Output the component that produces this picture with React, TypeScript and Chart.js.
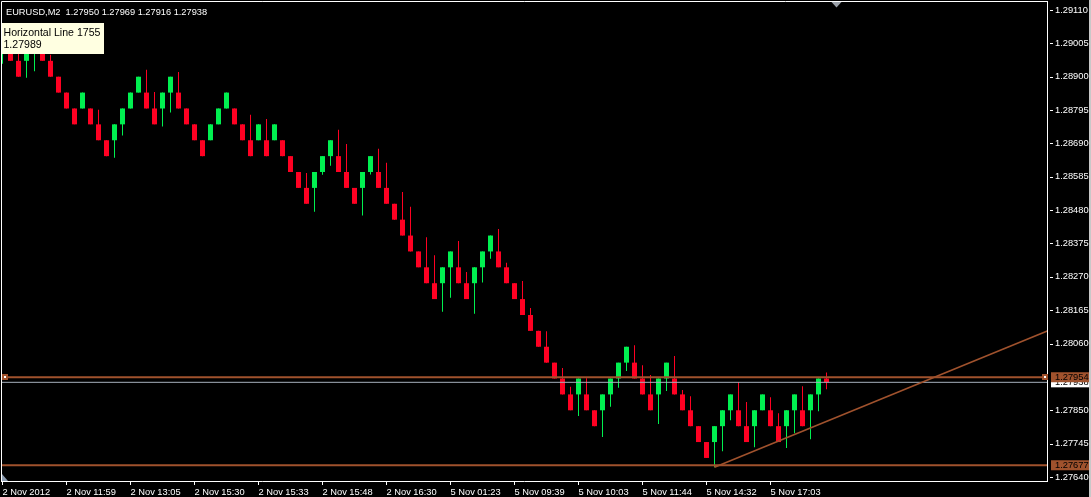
import React, { useEffect, useRef } from "react";
import { Chart, registerables } from "chart.js";

Chart.register(...registerables);

// ---- Data (Renko-style bricks, EURUSD M2) ----
const OPENS = [
  1.29, 1.29, 1.2895, 1.2895, 1.29, 1.29, 1.2895, 1.289, 1.2885, 1.288,
  1.288, 1.288, 1.2875, 1.287, 1.287, 1.2875, 1.288, 1.2885, 1.2885, 1.288,
  1.288, 1.2885, 1.2885, 1.288, 1.2875, 1.287, 1.287, 1.2875, 1.288, 1.288,
  1.2875, 1.287, 1.287, 1.287, 1.287, 1.287, 1.2865, 1.286, 1.2855, 1.2855,
  1.286, 1.2865, 1.2865, 1.286, 1.2855, 1.2855, 1.286, 1.286, 1.2855, 1.285,
  1.2845, 1.284, 1.2835, 1.283, 1.2825, 1.2825, 1.283, 1.283, 1.2825, 1.2825,
  1.283, 1.2835, 1.2835, 1.283, 1.2825, 1.282, 1.2815, 1.281, 1.2805, 1.28,
  1.2795, 1.279, 1.279, 1.279, 1.2785, 1.2785, 1.279, 1.2795, 1.28, 1.28,
  1.2795, 1.279, 1.279, 1.2795, 1.2795, 1.279, 1.2785, 1.278, 1.2775, 1.2775,
  1.278, 1.2785, 1.2785, 1.278, 1.278, 1.2785, 1.2785, 1.278, 1.278, 1.2785,
  1.2785, 1.2785, 1.279, 1.2795,
];
const HIGHS = [
  1.2905, 1.29, 1.28972, 1.29, 1.2905, 1.29, 1.28969, 1.289, 1.2885, 1.288,
  1.2885, 1.288, 1.28796, 1.287, 1.2875, 1.288, 1.2885, 1.289, 1.28922, 1.28852,
  1.2885, 1.289, 1.28915, 1.288, 1.2875, 1.287, 1.2875, 1.288, 1.2885, 1.288,
  1.2875, 1.2878, 1.2875, 1.28767, 1.2875, 1.287, 1.2865, 1.286, 1.28597, 1.286,
  1.2865, 1.287, 1.28733, 1.28688, 1.2855, 1.286, 1.2865, 1.28673, 1.28629, 1.285,
  1.28537, 1.28491, 1.2835, 1.28395, 1.28338, 1.283, 1.2835, 1.28383, 1.28285, 1.283,
  1.2835, 1.284, 1.28421, 1.28314, 1.2825, 1.28257, 1.28172, 1.281, 1.28099, 1.28,
  1.27983, 1.27924, 1.2795, 1.27951, 1.2785, 1.279, 1.2795, 1.28, 1.2805, 1.28055,
  1.27992, 1.27961, 1.2795, 1.28, 1.28021, 1.27914, 1.27894, 1.278, 1.2775, 1.278,
  1.2785, 1.279, 1.27939, 1.27876, 1.2785, 1.279, 1.27891, 1.27841, 1.2785, 1.279,
  1.27926, 1.279, 1.2795, 1.27969,
];
const LOWS = [
  1.28941, 1.2895, 1.289, 1.28897, 1.28917, 1.2895, 1.289, 1.2885, 1.288, 1.2875,
  1.288, 1.2875, 1.287, 1.2865, 1.28645, 1.28715, 1.288, 1.2885, 1.288, 1.2875,
  1.28743, 1.28787, 1.288, 1.2875, 1.287, 1.2865, 1.287, 1.2875, 1.288, 1.2875,
  1.287, 1.2865, 1.287, 1.2865, 1.287, 1.2865, 1.286, 1.2855, 1.285, 1.28475,
  1.28591, 1.2862, 1.286, 1.2855, 1.285, 1.28463, 1.28592, 1.2855, 1.285, 1.2845,
  1.284, 1.2835, 1.283, 1.2825, 1.282, 1.2816, 1.28204, 1.2825, 1.282, 1.28154,
  1.28252, 1.28327, 1.283, 1.2825, 1.282, 1.2815, 1.281, 1.2805, 1.28, 1.2795,
  1.279, 1.2785, 1.27832, 1.2785, 1.278, 1.27766, 1.27861, 1.27921, 1.27974, 1.2795,
  1.279, 1.2785, 1.27807, 1.27911, 1.279, 1.2785, 1.278, 1.2775, 1.277, 1.27671,
  1.27721, 1.27819, 1.278, 1.2775, 1.27734, 1.2785, 1.278, 1.2775, 1.27731, 1.27778,
  1.278, 1.27759, 1.27847, 1.27916,
];
const CLOSES = [
  1.2905, 1.2895, 1.289, 1.29, 1.2905, 1.2895, 1.289, 1.2885, 1.288, 1.2875,
  1.2885, 1.2875, 1.287, 1.2865, 1.2875, 1.288, 1.2885, 1.289, 1.288, 1.2875,
  1.2885, 1.289, 1.288, 1.2875, 1.287, 1.2865, 1.2875, 1.288, 1.2885, 1.2875,
  1.287, 1.2865, 1.2875, 1.2865, 1.2875, 1.2865, 1.286, 1.2855, 1.285, 1.286,
  1.2865, 1.287, 1.286, 1.2855, 1.285, 1.286, 1.2865, 1.2855, 1.285, 1.2845,
  1.284, 1.2835, 1.283, 1.2825, 1.282, 1.283, 1.2835, 1.2825, 1.282, 1.283,
  1.2835, 1.284, 1.283, 1.2825, 1.282, 1.2815, 1.281, 1.2805, 1.28, 1.2795,
  1.279, 1.2785, 1.2795, 1.2785, 1.278, 1.279, 1.2795, 1.28, 1.2805, 1.2795,
  1.279, 1.2785, 1.2795, 1.28, 1.279, 1.2785, 1.278, 1.2775, 1.277, 1.278,
  1.2785, 1.279, 1.278, 1.2775, 1.2785, 1.279, 1.278, 1.2775, 1.2785, 1.279,
  1.278, 1.279, 1.2795, 1.27938,
];

const X_LABEL_INDEX = [0, 8, 16, 24, 32, 40, 48, 56, 64, 72, 80, 88, 96];
const X_LABELS = [
  "2 Nov 2012", "2 Nov 11:59", "2 Nov 13:05", "2 Nov 15:30", "2 Nov 15:33",
  "2 Nov 15:48", "2 Nov 16:30", "5 Nov 01:23", "5 Nov 09:39", "5 Nov 10:03",
  "5 Nov 11:44", "5 Nov 14:32", "5 Nov 17:03",
];
const Y_TICKS = [
  1.2911, 1.29005, 1.289, 1.28795, 1.2869, 1.28585, 1.2848, 1.28375,
  1.2827, 1.28165, 1.2806, 1.2785, 1.27745, 1.2764,
];

const HLINE_UPPER = 1.27954;
const HLINE_LOWER = 1.27677;
const BID = 1.27938;
const TREND_X = [89, 135];
const TREND_Y = [1.27671, 1.28145];

const TITLE = "EURUSD,M2  1.27950 1.27969 1.27916 1.27938";
const TIP_LINES = ["Horizontal Line 1755", "1.27989"];

// ---- Styling ----
const FONT = '"Liberation Sans", Arial, sans-serif';
const BULL = "#00f050";
const BEAR = "#ff0022";
const SIENNA = "#a0522d";
const BID_COLOR = "#a6b0bc";

const Y_MIN = 1.276274;
const Y_MAX = 1.291383;
const X_MIN = -0.1875;
const X_MAX = X_MIN + 1046 / 8;

function fitSize(text: string, target: number): number {
  const c = document.createElement("canvas").getContext("2d");
  if (!c) return 10;
  c.font = `100px ${FONT}`;
  const w = c.measureText(text).width;
  return Math.round(((100 * target) / w) * 100) / 100;
}

export default function App() {
  const ref = useRef<HTMLCanvasElement>(null);

  useEffect(() => {
    const canvas = ref.current;
    if (!canvas) return;
    const idx = OPENS.map((_, i) => i);
    const colors = idx.map((i) => (CLOSES[i] >= OPENS[i] ? BULL : BEAR));

    const titleSize = fitSize(TITLE, 201);
    const tipSize = fitSize(TIP_LINES[0], 97);
    const xSize = fitSize("2 Nov 11:59", 49.5);
    const ySize = fitSize("1.29110", 33);

    const overlay = {
      id: "mt4overlay",
      afterDraw(chart: any) {
        const { ctx, chartArea: ca, scales } = chart;
        const ys = scales.y;
        ctx.save();

        // frame (left + top)
        ctx.strokeStyle = "#ffffff";
        ctx.lineWidth = 1;
        ctx.beginPath();
        ctx.moveTo(ca.left + 0.5, ca.bottom);
        ctx.lineTo(ca.left + 0.5, ca.top + 0.5);
        ctx.lineTo(ca.right, ca.top + 0.5);
        ctx.stroke();

        // y tick dashes
        ctx.beginPath();
        for (const v of Y_TICKS) {
          const py = Math.round(ys.getPixelForValue(v)) + 0.5;
          ctx.moveTo(ca.right + 3, py);
          ctx.lineTo(ca.right + 6, py);
        }
        ctx.stroke();

        // title
        ctx.fillStyle = "#ffffff";
        ctx.font = `${titleSize}px ${FONT}`;
        ctx.textBaseline = "middle";
        ctx.textAlign = "left";
        ctx.fillText(TITLE, 6, 12.3);

        // tooltip
        ctx.fillStyle = "#ffffe1";
        ctx.fillRect(2, 23, 102, 31);
        ctx.fillStyle = "#000000";
        ctx.font = `${tipSize}px ${FONT}`;
        ctx.fillText(TIP_LINES[0], 3.5, 33);
        ctx.fillText(TIP_LINES[1], 3.5, 45.3);

        // selected line end markers
        const pyU = ys.getPixelForValue(HLINE_UPPER);
        const my = Math.round(pyU - 3);
        for (const mx of [ca.left + 1, ca.right - 5]) {
          ctx.fillStyle = SIENNA;
          ctx.fillRect(mx, my, 6, 6);
          ctx.fillStyle = "#ffffff";
          ctx.fillRect(mx + 2, my + 2, 2, 2);
        }

        // right axis price labels
        const lx = ca.right + 4;
        const lw = 38;
        ctx.font = `${ySize}px ${FONT}`;
        const pyB = ys.getPixelForValue(BID);
        ctx.fillStyle = "#ffffff";
        ctx.fillRect(lx, pyB - 5, lw, 10);
        ctx.fillStyle = "#000000";
        ctx.fillText(BID.toFixed(5), ca.right + 8, pyB + 0.5);

        for (const v of [HLINE_UPPER, HLINE_LOWER]) {
          const py = ys.getPixelForValue(v);
          ctx.fillStyle = SIENNA;
          ctx.fillRect(lx, py - 5, lw, 10);
          ctx.fillStyle = "#000000";
          ctx.fillText(v.toFixed(5), ca.right + 8, py + 0.5);
        }

        // chart shift marker (top)
        ctx.fillStyle = "#9aa0a8";
        ctx.beginPath();
        ctx.moveTo(831.5, 2);
        ctx.lineTo(841.5, 2);
        ctx.lineTo(836.5, 7.5);
        ctx.closePath();
        ctx.fill();

        // bottom-left marker
        ctx.fillStyle = "#8c9cb0";
        ctx.beginPath();
        ctx.moveTo(2, 474);
        ctx.lineTo(2, 481);
        ctx.lineTo(8, 481);
        ctx.closePath();
        ctx.fill();

        // window edge
        ctx.fillStyle = "#c8c8c8";
        ctx.fillRect(1089, 0, 2, 497);

        ctx.restore();
      },
    };

    const chart = new Chart(canvas, {
      type: "bar",
      data: {
        datasets: [
          {
            type: "line",
            label: "trend",
            data: TREND_X.map((x, i) => ({ x, y: TREND_Y[i] })),
            borderColor: SIENNA,
            borderWidth: 1.6,
            pointRadius: 0,
            clip: 0,
            order: 0,
          } as any,
          {
            type: "line",
            label: "upper",
            data: [
              { x: X_MIN - 1, y: HLINE_UPPER },
              { x: X_MAX + 1, y: HLINE_UPPER },
            ],
            borderColor: SIENNA,
            borderWidth: 2,
            pointRadius: 0,
            clip: 0,
            order: 0,
          } as any,
          {
            type: "line",
            label: "lower",
            data: [
              { x: X_MIN - 1, y: HLINE_LOWER },
              { x: X_MAX + 1, y: HLINE_LOWER },
            ],
            borderColor: SIENNA,
            borderWidth: 2,
            pointRadius: 0,
            clip: 0,
            order: 0,
          } as any,
          {
            type: "line",
            label: "bid",
            data: [
              { x: X_MIN - 1, y: BID },
              { x: X_MAX + 1, y: BID },
            ],
            borderColor: BID_COLOR,
            borderWidth: 1,
            pointRadius: 0,
            clip: 0,
            order: 1,
          } as any,
          {
            type: "bar",
            label: "body",
            data: idx.map((i) => ({ x: i, y: [OPENS[i], CLOSES[i]] })),
            backgroundColor: colors,
            barThickness: 5,
            grouped: false,
            inflateAmount: 0,
            borderWidth: 0,
            minBarLength: 1,
            order: 2,
          } as any,
          {
            type: "bar",
            label: "wick",
            data: idx.map((i) => ({ x: i, y: [LOWS[i], HIGHS[i]] })),
            backgroundColor: colors,
            barThickness: 1,
            grouped: false,
            inflateAmount: 0,
            borderWidth: 0,
            order: 3,
          } as any,
        ],
      },
      options: {
        animation: false,
        responsive: false,
        devicePixelRatio: 1,
        events: [],
        layout: { padding: { left: 1, top: 1, right: 0, bottom: 0 } },
        plugins: {
          legend: { display: false },
          tooltip: { enabled: false },
        },
        scales: {
          x: {
            type: "linear",
            position: "bottom",
            min: X_MIN,
            max: X_MAX,
            offset: false,
            grid: {
              display: true,
              offset: false,
              drawOnChartArea: false,
              drawTicks: true,
              tickLength: 4,
              color: "#ffffff",
            },
            border: { display: true, color: "#ffffff", width: 1 },
            ticks: {
              color: "#ffffff",
              font: { family: FONT, size: xSize },
              autoSkip: false,
              maxRotation: 0,
              minRotation: 0,
              align: "start",
              padding: 1.5,
              labelOffset: 0,
              callback: (v: any) => {
                const k = X_LABEL_INDEX.indexOf(Number(v));
                return k >= 0 ? X_LABELS[k] : "";
              },
            },
            afterBuildTicks: (scale: any) => {
              scale.ticks = X_LABEL_INDEX.map((value) => ({ value }));
            },
            afterFit: (scale: any) => {
              scale.height = 16;
              scale.paddingLeft = 0;
              scale.paddingRight = 0;
              scale.paddingTop = 0;
              scale.paddingBottom = 0;
            },
          } as any,
          y: {
            type: "linear",
            position: "right",
            min: Y_MIN,
            max: Y_MAX,
            grid: { display: true, drawOnChartArea: false, drawTicks: false },
            border: { display: true, color: "#ffffff", width: 1 },
            ticks: {
              color: "#ffffff",
              font: { family: FONT, size: ySize },
              padding: 8,
              autoSkip: false,
              callback: (v: any) => Number(v).toFixed(5),
            },
            afterBuildTicks: (scale: any) => {
              scale.ticks = Y_TICKS.map((value) => ({ value }));
            },
            afterFit: (scale: any) => {
              scale.width = 44;
              scale.paddingTop = 0;
              scale.paddingBottom = 0;
              scale.paddingLeft = 0;
              scale.paddingRight = 0;
            },
          } as any,
        },
      },
      plugins: [overlay],
    });

    return () => chart.destroy();
  }, []);

  return (
    <div
      style={{
        position: "fixed",
        left: 0,
        top: 0,
        width: 1091,
        height: 497,
        background: "#000000",
      }}
    >
      <canvas
        ref={ref}
        width={1091}
        height={497}
        style={{ display: "block", width: 1091, height: 497 }}
      />
    </div>
  );
}
